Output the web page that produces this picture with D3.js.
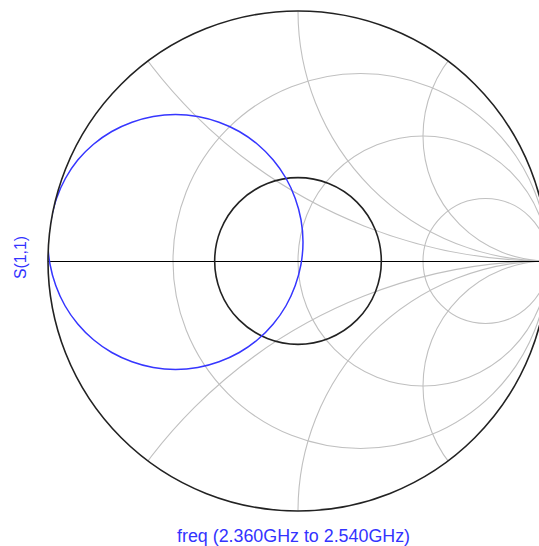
<!DOCTYPE html>
<html>
<head>
<meta charset="utf-8">
<script src="https://cdn.jsdelivr.net/npm/d3@7"></script>
<style>
  html, body { margin: 0; padding: 0; background: #fff; }
  svg { display: block; }
  text { font-family: "Liberation Sans", Arial, Helvetica, sans-serif; }
</style>
</head>
<body>
<svg id="chart" width="539" height="546"></svg>
<script>
// ---- data ----
const traceName = "S(1,1)";
const freqLabel = "freq (2.360GHz to 2.540GHz)";
const s11Re = [-1.000, -0.992, -0.969, -0.932, -0.881, -0.818, -0.745, -0.664, -0.579, -0.490,
               -0.401, -0.316, -0.235, -0.162, -0.099, -0.048, -0.011, 0.012, 0.020, 0.012,
               -0.011, -0.048, -0.099, -0.162, -0.235, -0.316, -0.401, -0.490, -0.579, -0.664,
               -0.745, -0.818, -0.881, -0.930, -0.966, -0.988];
const s11Im = [0.076, -0.013, -0.098, -0.179, -0.252, -0.315, -0.366, -0.403, -0.426, -0.434,
               -0.426, -0.403, -0.366, -0.315, -0.252, -0.179, -0.098, -0.013, 0.076, 0.165,
               0.250, 0.331, 0.404, 0.467, 0.518, 0.555, 0.578, 0.586, 0.578, 0.555,
               0.518, 0.467, 0.404, 0.331, 0.250, 0.165];
// grid: constant resistance and reactance values
const resistanceValues = [1/3, 1, 3];
const reactanceValues = [0.5, 1, 2, -0.5, -1, -2];
// highlighted |Gamma| circle
const gammaCircle = [1/3];

// ---- drawing ----
const svg = d3.select("#chart");
const x = d3.scaleLinear().domain([-1, 1]).range([48, 548]);
const y = d3.scaleLinear().domain([-1, 1]).range([511, 11]);
const k = (x(1) - x(-1)) / 2;

svg.append("clipPath").attr("id", "unit")
  .append("circle").attr("cx", x(0)).attr("cy", y(0)).attr("r", k);

const grid = svg.append("g").attr("clip-path", "url(#unit)")
  .attr("fill", "none").attr("stroke", "#c0c0c0").attr("stroke-width", 1.1);

grid.selectAll("circle.r").data(resistanceValues).join("circle")
  .attr("class", "r")
  .attr("cx", r => x(r / (1 + r)))
  .attr("cy", y(0))
  .attr("r", r => k / (1 + r));

grid.selectAll("circle.x").data(reactanceValues).join("circle")
  .attr("class", "x")
  .attr("cx", x(1))
  .attr("cy", v => y(1 / v))
  .attr("r", v => k / Math.abs(v));

// real axis
svg.append("line")
  .attr("x1", x(-1)).attr("x2", x(1)).attr("y1", y(0) + 0.5).attr("y2", y(0) + 0.5)
  .attr("stroke", "#000").attr("stroke-width", 1);

// |Gamma| circle
svg.selectAll("circle.g").data(gammaCircle).join("circle")
  .attr("class", "g")
  .attr("cx", x(0)).attr("cy", y(0)).attr("r", g => g * k)
  .attr("fill", "none").attr("stroke", "#222").attr("stroke-width", 1.6);

// trace
const pts = s11Re.map((re, i) => [re, s11Im[i]]);
svg.append("path")
  .attr("clip-path", "url(#unit)")
  .attr("d", d3.line().x(d => x(d[0])).y(d => y(d[1])).curve(d3.curveCardinalClosed)(pts))
  .attr("fill", "none").attr("stroke", "#3636ff").attr("stroke-width", 1.5);

// outer circle
svg.append("circle")
  .attr("cx", x(0)).attr("cy", y(0)).attr("r", k)
  .attr("fill", "none").attr("stroke", "#222").attr("stroke-width", 1.6);

// labels
svg.append("text")
  .attr("transform", `translate(26, 257.5) rotate(-90)`)
  .attr("text-anchor", "middle")
  .attr("font-size", 16)
  .attr("textLength", 43).attr("lengthAdjust", "spacingAndGlyphs")
  .attr("fill", "#3333ff")
  .text(traceName);

svg.append("text")
  .attr("x", 293.5).attr("y", 541.5)
  .attr("text-anchor", "middle")
  .attr("font-size", 18)
  .attr("textLength", 233).attr("lengthAdjust", "spacingAndGlyphs")
  .attr("fill", "#3333ff")
  .text(freqLabel);
</script>
</body>
</html>
